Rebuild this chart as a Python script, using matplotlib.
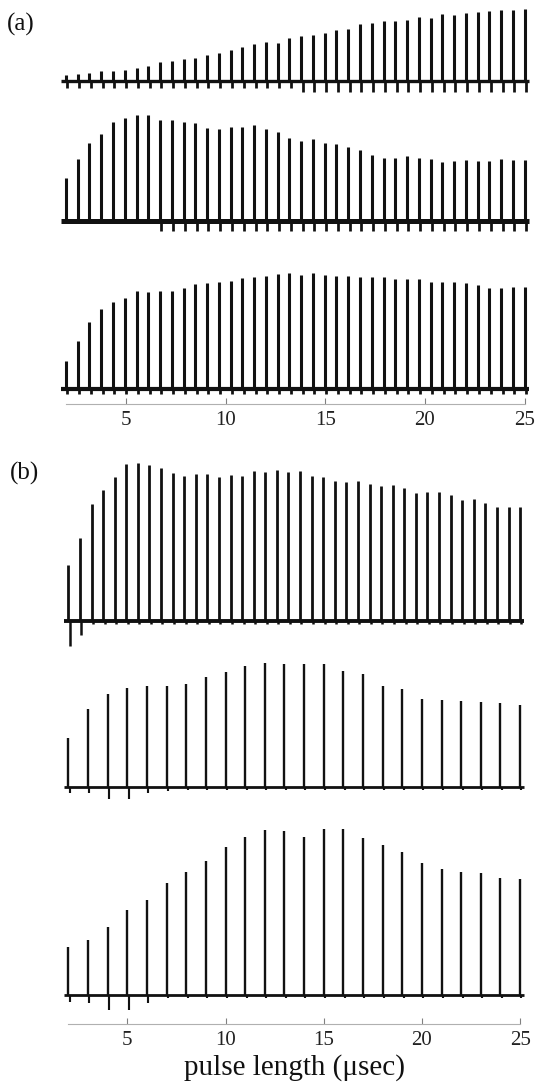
import numpy as np
import matplotlib
matplotlib.use("Agg")
import matplotlib.pyplot as plt

plt.rcParams["font.family"] = ["Liberation Serif", "DejaVu Serif"]

# pulse lengths (usec): 40-step sweep in the long runs, 1 usec steps in the short ones
dense_pulses = np.linspace(2, 25, 40)
unit_pulses = np.arange(2, 26)

# spike amplitudes (arbitrary units, px above baseline)
a1_heights = [6, 7, 8.3, 10, 10.3, 11, 13.3, 15, 18.7, 20,
              22.3, 23.3, 26, 27.7, 31, 34.3, 36.7, 39, 37.7, 43.3,
              45.3, 45.7, 48.3, 51, 52, 56.7, 57.7, 60, 60.3, 61,
              64.3, 62.7, 66.7, 66, 68.3, 69.3, 70, 71, 71, 72]
a2_heights = [42.7, 61.7, 78.3, 86.7, 98.7, 102.7, 106, 106, 101, 101,
              99.3, 98.3, 93.3, 92, 94, 93.7, 96, 91.7, 88.7, 83.3,
              80.3, 81.7, 77.7, 76.7, 73.7, 70.7, 66, 63.3, 63.3, 65,
              62.7, 62, 59.3, 60.3, 61, 60, 60, 61.7, 61, 61]
a3_heights = [28.3, 48.7, 67.7, 80, 87, 91, 98.7, 97, 98.3, 98.3,
              101, 105, 106, 107, 108.7, 111, 112.7, 113.3, 115.7, 116,
              114.3, 116.7, 114.3, 113.7, 113.3, 112.7, 112, 112, 110.3, 110.3,
              110.3, 107.7, 107.7, 107.7, 106.7, 104, 101.3, 101.7, 102, 102]
b1_heights = [55.7, 82.3, 116.3, 130.7, 144, 156.3, 158, 155.7, 152.3, 147.3,
              145, 146.3, 146.7, 144, 145.7, 145, 149.7, 148.7, 150.7, 148.7,
              149.7, 145, 144, 140, 138.3, 140, 136.3, 134.7, 135.3, 133,
              127.3, 128.3, 129, 125.7, 120.7, 122, 117.3, 113.3, 113.3, 113.3]
b2_heights = [49, 77.3, 92.7, 98.3, 100.7, 100.7, 102.3, 110, 114.3, 120.7,
              123.3, 122.7, 122.7, 122.7, 116, 112.3, 101, 97.3, 87.3, 86.7,
              86, 84.3, 83.3, 81.7]
b3_heights = [47.7, 55, 67.7, 85, 95, 112.3, 123.3, 134.3, 148.3, 157.7,
              165, 164, 157.7, 165.7, 165.7, 157.3, 150, 142.7, 132.3, 126,
              123.3, 122.3, 117.3, 115.7]

# downward artefact after each spike
a1_tails = [7] * 20 + [11] * 20
a2_tails = [2] * 8 + [10] * 32
a3_tails = [5] * 40
b1_tails = [25, 14] + [3] * 38
b2_tails = [6, 6, 12, 12, 6, 4] + [3] * 18
b3_tails = [7, 8, 15, 15, 8] + [3] * 19

tick_values = [5, 10, 15, 20, 25]

W, H = 536, 1084
fig = plt.figure(figsize=(W / 100, H / 100), dpi=100)


def make_axes(left_px, right_px, top_px, axis_px):
    ax = fig.add_axes([left_px / W, 1 - axis_px / H,
                       (right_px - left_px) / W, (axis_px - top_px) / H])
    ax.set_xlim(1.5, 25.5)
    ax.set_ylim(0, axis_px - top_px)
    for side in ["left", "right", "top"]:
        ax.spines[side].set_visible(False)
    ax.spines["bottom"].set_bounds(2, 25)
    ax.spines["bottom"].set_color("#b0b0b0")
    ax.spines["bottom"].set_linewidth(0.8)
    ax.set_yticks([])
    ax.set_xticks(tick_values)
    ax.set_xticklabels([str(v) for v in tick_values])
    ax.tick_params(axis="x", direction="in", length=4, width=0.8,
                   color="#808080", labelsize=15, labelcolor="#222222", pad=5)
    ax.patch.set_alpha(0)
    return ax


def draw_trace(ax, pulses, heights, tails, base, lw_spike, lw_base):
    pulses = np.asarray(pulses, dtype=float)
    heights = np.asarray(heights, dtype=float)
    tails = np.asarray(tails, dtype=float)
    ax.hlines(base, pulses[0] - 0.25, pulses[-1] + 0.2, color="#111111",
              lw=lw_base, zorder=2)
    ax.vlines(pulses, base, base + heights, color="#111111", lw=lw_spike, zorder=3)
    ax.vlines(pulses + 0.07, base - tails, base, color="#111111",
              lw=lw_spike * 0.9, zorder=3)


# panel (a)
ax_a = make_axes(56.0, 534.6, 0, 404)
draw_trace(ax_a, dense_pulses, a1_heights, a1_tails, 323, 2.2, 2.4)
draw_trace(ax_a, dense_pulses, a2_heights, a2_tails, 183, 2.2, 3.6)
draw_trace(ax_a, dense_pulses, a3_heights, a3_tails, 14.7, 2.2, 3.0)

# panel (b)
ax_b = make_axes(58.6, 529.9, 440, 1024)
draw_trace(ax_b, dense_pulses, b1_heights, b1_tails, 403.3, 2.0, 2.8)
draw_trace(ax_b, unit_pulses, b2_heights, b2_tails, 237.3, 1.7, 2.0)
draw_trace(ax_b, unit_pulses, b3_heights, b3_tails, 29, 1.7, 2.0)
ax_b.set_xlabel("pulse length (\u03bcsec)", fontsize=21, color="#111111", labelpad=3)

fig.text(7 / W, 1 - 24 / H, "(a)", fontsize=18, va="center", ha="left", color="#111111")
fig.text(10 / W, 1 - 473 / H, "(b)", fontsize=18, va="center", ha="left", color="#111111")

fig.savefig("out.png", dpi=100, facecolor="white")
